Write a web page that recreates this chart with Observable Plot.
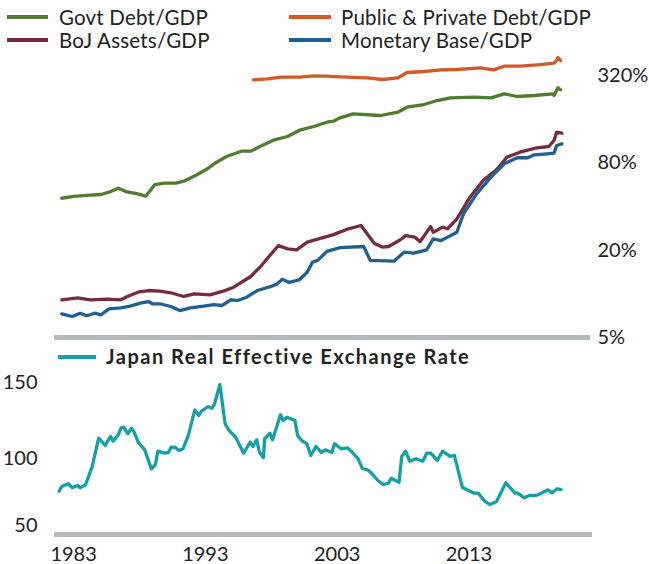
<!DOCTYPE html>
<html>
<head>
<meta charset="utf-8">
<script src="https://cdn.jsdelivr.net/npm/d3@7"></script>
<script src="https://cdn.jsdelivr.net/npm/@observablehq/plot@0.6"></script>
<style>
  body { margin: 0; background: #fff; font-family: Lato, "Open Sans", sans-serif; color: #222; }
  #chart { position: relative; width: 649px; height: 564px; overflow: hidden; }
  .leg { position: absolute; font-size: 20.5px; white-space: nowrap; line-height: 1; letter-spacing: 0.2px; }
  .sw { position: absolute; height: 4px; }
  .panel { position: absolute; left: 0; }
</style>
</head>
<body>
<div id="chart">
  <div class="sw" style="left:7px;top:15px;width:41px;background:#4e7d30"></div>
  <div class="leg" style="left:59px;top:7px">Govt Debt/GDP</div>
  <div class="sw" style="left:289px;top:15px;width:42px;background:#d35a27"></div>
  <div class="leg" style="left:341px;top:7px">Public &amp; Private Debt/GDP</div>
  <div class="sw" style="left:7px;top:38px;width:41px;background:#782b40"></div>
  <div class="leg" style="left:59px;top:30px">BoJ Assets/GDP</div>
  <div class="sw" style="left:289px;top:38px;width:42px;background:#1f5f92"></div>
  <div class="leg" style="left:341px;top:30px">Monetary Base/GDP</div>
  <div id="top" class="panel" style="top:48px"></div>
  <div class="sw" style="left:58px;top:355px;width:38px;background:#13a1a7"></div>
  <div class="leg" style="left:106px;top:346px;font-weight:bold;font-size:20px;letter-spacing:1.5px">Japan Real Effective Exchange Rate</div>
  <div id="bottom" class="panel" style="top:370px"></div>
</div>
<script>
// Series: [year, % of GDP]
const govtDebt = [[1982.1,45.6],[1983.0,46.9],[1984.0,47.8],[1985.1,48.4],[1985.7,50.2],[1986.4,53.5],[1987.0,50.7],[1987.9,48.9],[1988.5,47.1],[1989.2,56.7],[1989.9,57.9],[1990.8,57.9],[1991.4,59.8],[1992.4,66.2],[1993.2,72.8],[1993.9,80.8],[1994.7,88.9],[1995.8,96.2],[1996.5,96.2],[1997.2,103.7],[1998.3,115.3],[1999.3,121.5],[2000.3,135.1],[2001.3,142.4],[2002.3,152.4],[2002.8,154.9],[2003.3,163.5],[2004.3,174.2],[2006.4,169.6],[2007.7,178.7],[2008.4,193.4],[2009.7,201.9],[2010.7,215.1],[2011.7,224.5],[2013.5,226.7],[2014.8,224.5],[2015.8,239.3],[2016.8,229.3],[2018.1,232.9],[2019.5,239.3],[2019.6,232.9],[2019.9,263.2],[2020.1,255]];
const totalDebt = [[1996.7,298.8],[1997.8,303.6],[1998.8,311.4],[2000.3,311.4],[2001.3,318.4],[2002.3,316.4],[2002.8,314.8],[2005.4,308.4],[2006.5,300.3],[2007.7,308.4],[2008.4,335.5],[2009.7,340.9],[2011.0,350.2],[2012.2,351.9],[2014.0,361.5],[2015.0,350.2],[2015.8,370.9],[2017.0,370.9],[2018.6,380.9],[2019.6,388.9],[2019.8,405.9],[2019.9,425.7],[2020.1,405.9]];
const bojAssets = [[1982.1,9.10],[1983.3,9.39],[1984.3,9.10],[1985.6,9.18],[1986.6,9.10],[1987.1,9.59],[1987.9,10.26],[1988.7,10.54],[1989.6,10.43],[1990.4,10.17],[1991.4,9.59],[1992.2,10.0],[1993.4,9.85],[1994.4,10.43],[1995.2,11.11],[1996.5,13.17],[1997.2,15.26],[1998.0,18.58],[1998.6,21.5],[1999.3,20.4],[2000.0,20.1],[2000.8,22.7],[2001.6,23.8],[2002.8,25.6],[2003.8,27.8],[2004.9,29.6],[2005.9,22.3],[2006.5,21.0],[2007.0,21.2],[2007.9,23.6],[2008.3,25.2],[2009.0,24.6],[2009.4,22.9],[2010.2,29.1],[2010.4,26.6],[2011.1,28.8],[2011.5,28.1],[2012.2,32.9],[2013.2,46.4],[2014.2,60.4],[2015.3,72.8],[2016.0,87.5],[2017.0,94.7],[2018.3,101.6],[2019.2,103.7],[2019.6,114],[2019.8,130],[2020.2,128]];
const monetaryBase = [[1982.1,7.28],[1982.9,6.98],[1983.5,7.35],[1984.0,7.06],[1984.6,7.35],[1985.1,7.17],[1985.7,7.88],[1986.6,8.01],[1987.3,8.22],[1988.1,8.62],[1988.7,8.85],[1989.0,8.54],[1989.6,8.54],[1990.4,8.18],[1991.1,7.67],[1991.9,8.01],[1992.9,8.22],[1993.7,8.44],[1994.3,8.31],[1995.0,9.10],[1995.5,9.0],[1996.2,9.48],[1997.0,10.54],[1998.0,11.2],[1998.5,11.7],[1998.9,12.6],[1999.4,12.0],[2000.2,12.5],[2000.8,14.1],[2001.2,16.5],[2001.6,17.0],[2002.3,19.6],[2003.3,20.8],[2005.1,21.2],[2005.6,17.0],[2007.4,16.8],[2008.2,19.4],[2008.9,19.1],[2009.9,20.1],[2010.4,23.9],[2011.0,23.3],[2011.5,24.6],[2012.2,26.6],[2012.7,35.6],[2013.7,48.9],[2014.8,63.7],[2015.8,78.8],[2016.8,86.7],[2017.6,86.7],[2018.1,90.9],[2019.1,92.3],[2019.6,93.2],[2019.8,105.3],[2020.2,108.2]];
// Japan real effective exchange rate index: [year, index]
const reer = [[1981.9,78.5],[1982.1,81.6],[1982.6,83.4],[1982.9,80.7],[1983.3,82.2],[1983.5,80.7],[1983.9,82.7],[1984.4,94.3],[1984.9,113.4],[1985.4,108.6],[1985.8,114.5],[1986.0,111.4],[1986.4,115.8],[1986.6,120.2],[1986.8,120.6],[1987.1,116.3],[1987.4,119.9],[1987.6,117.3],[1987.9,110.7],[1988.4,105.7],[1988.9,93.2],[1989.2,95.9],[1989.4,104.8],[1989.9,103.5],[1990.2,104.1],[1990.4,107.4],[1990.7,107.4],[1991.0,105.3],[1991.3,106.4],[1991.7,115.1],[1992.2,132.0],[1992.5,128.3],[1992.7,131.1],[1993.2,134.2],[1993.5,133.1],[1993.7,136.0],[1994.1,148.7],[1994.5,122.8],[1994.8,118.4],[1995.3,114.0],[1995.9,103.5],[1996.4,110.7],[1996.6,107.9],[1996.9,112.3],[1997.1,104.1],[1997.4,100.5],[1997.5,113.0],[1997.9,116.6],[1998.1,112.3],[1998.7,128.8],[1998.9,125.0],[1999.2,127.2],[1999.8,125.0],[2000.0,115.1],[2000.3,111.8],[2000.7,109.7],[2001.0,102.0],[2001.4,107.9],[2001.8,104.1],[2002.1,105.7],[2002.6,103.9],[2002.8,109.7],[2003.3,106.4],[2003.8,107.0],[2004.2,103.5],[2004.6,99.8],[2004.9,93.6],[2005.4,92.1],[2005.7,89.5],[2006.1,85.5],[2006.5,82.9],[2006.9,83.8],[2007.1,87.0],[2007.7,84.4],[2007.9,101.3],[2008.2,104.8],[2008.5,98.2],[2009.0,99.8],[2009.5,98.2],[2009.8,103.5],[2010.1,103.5],[2010.6,98.7],[2011.0,104.8],[2011.6,101.3],[2011.9,102.0],[2012.5,81.1],[2012.7,80.1],[2013.4,77.2],[2013.7,77.2],[2014.2,71.9],[2014.6,69.7],[2015.1,71.7],[2015.8,84.0],[2016.5,77.2],[2016.7,77.2],[2017.2,74.1],[2017.6,75.7],[2018.1,75.7],[2018.3,76.3],[2019.0,79.4],[2019.3,77.4],[2019.7,80.1],[2020.0,79.6]];

const pctTicks = [5, 20, 80, 320];
const reerTicks = [100, 150];
const reerLowTick = [50];
const yearTicks = [1983, 1993, 2003, 2013];
const xDomain = [1981.55, 2022.38];

const font = {fontFamily: "Lato, 'Open Sans', sans-serif", color: "#222", background: "transparent", overflow: "visible"};
const lineOpts = (stroke) => ({x: d => d[0], y: d => d[1], stroke, strokeWidth: 3.3, strokeLinejoin: "round", strokeLinecap: "round"});

const topPlot = Plot.plot({
  width: 649, height: 300,
  marginLeft: 54, marginRight: 59, marginTop: 27, marginBottom: 11,
  style: {...font, fontSize: "20px"},
  x: {domain: xDomain, axis: null},
  y: {type: "log", domain: [5, 320], axis: null},
  marks: [
    Plot.ruleY([5], {stroke: "#b4b9bc", strokeWidth: 5}),
    Plot.text(pctTicks, {x: xDomain[1], y: d => d, text: d => d + "%", textAnchor: "start", dx: 7, fontSize: 20, fill: "#222"}),
    Plot.line(totalDebt, lineOpts("#d35a27")),
    Plot.line(govtDebt, lineOpts("#4e7d30")),
    Plot.line(bojAssets, lineOpts("#782b40")),
    Plot.line(monetaryBase, lineOpts("#1f5f92"))
  ]
});
document.getElementById("top").appendChild(topPlot);

const bottomPlot = Plot.plot({
  width: 649, height: 194,
  marginLeft: 54, marginRight: 57, marginTop: 12, marginBottom: 30,
  style: {...font, fontSize: "20px"},
  x: {domain: xDomain},
  y: {domain: [50, 150]},
  marks: [
    Plot.ruleY([50], {stroke: "#b4b9bc", strokeWidth: 5}),
    Plot.axisY({anchor: "left", ticks: reerTicks, tickSize: 0, tickPadding: 17, fontSize: 20}),
    Plot.axisY({anchor: "left", ticks: reerLowTick, tickSize: 0, tickPadding: 17, fontSize: 20, dy: -9}),
    Plot.axisX({ticks: yearTicks, tickFormat: d => String(d), tickSize: 0, tickPadding: 12, fontSize: 20}),
    Plot.line(reer, lineOpts("#13a1a7"))
  ]
});
document.getElementById("bottom").appendChild(bottomPlot);
</script>
</body>
</html>
